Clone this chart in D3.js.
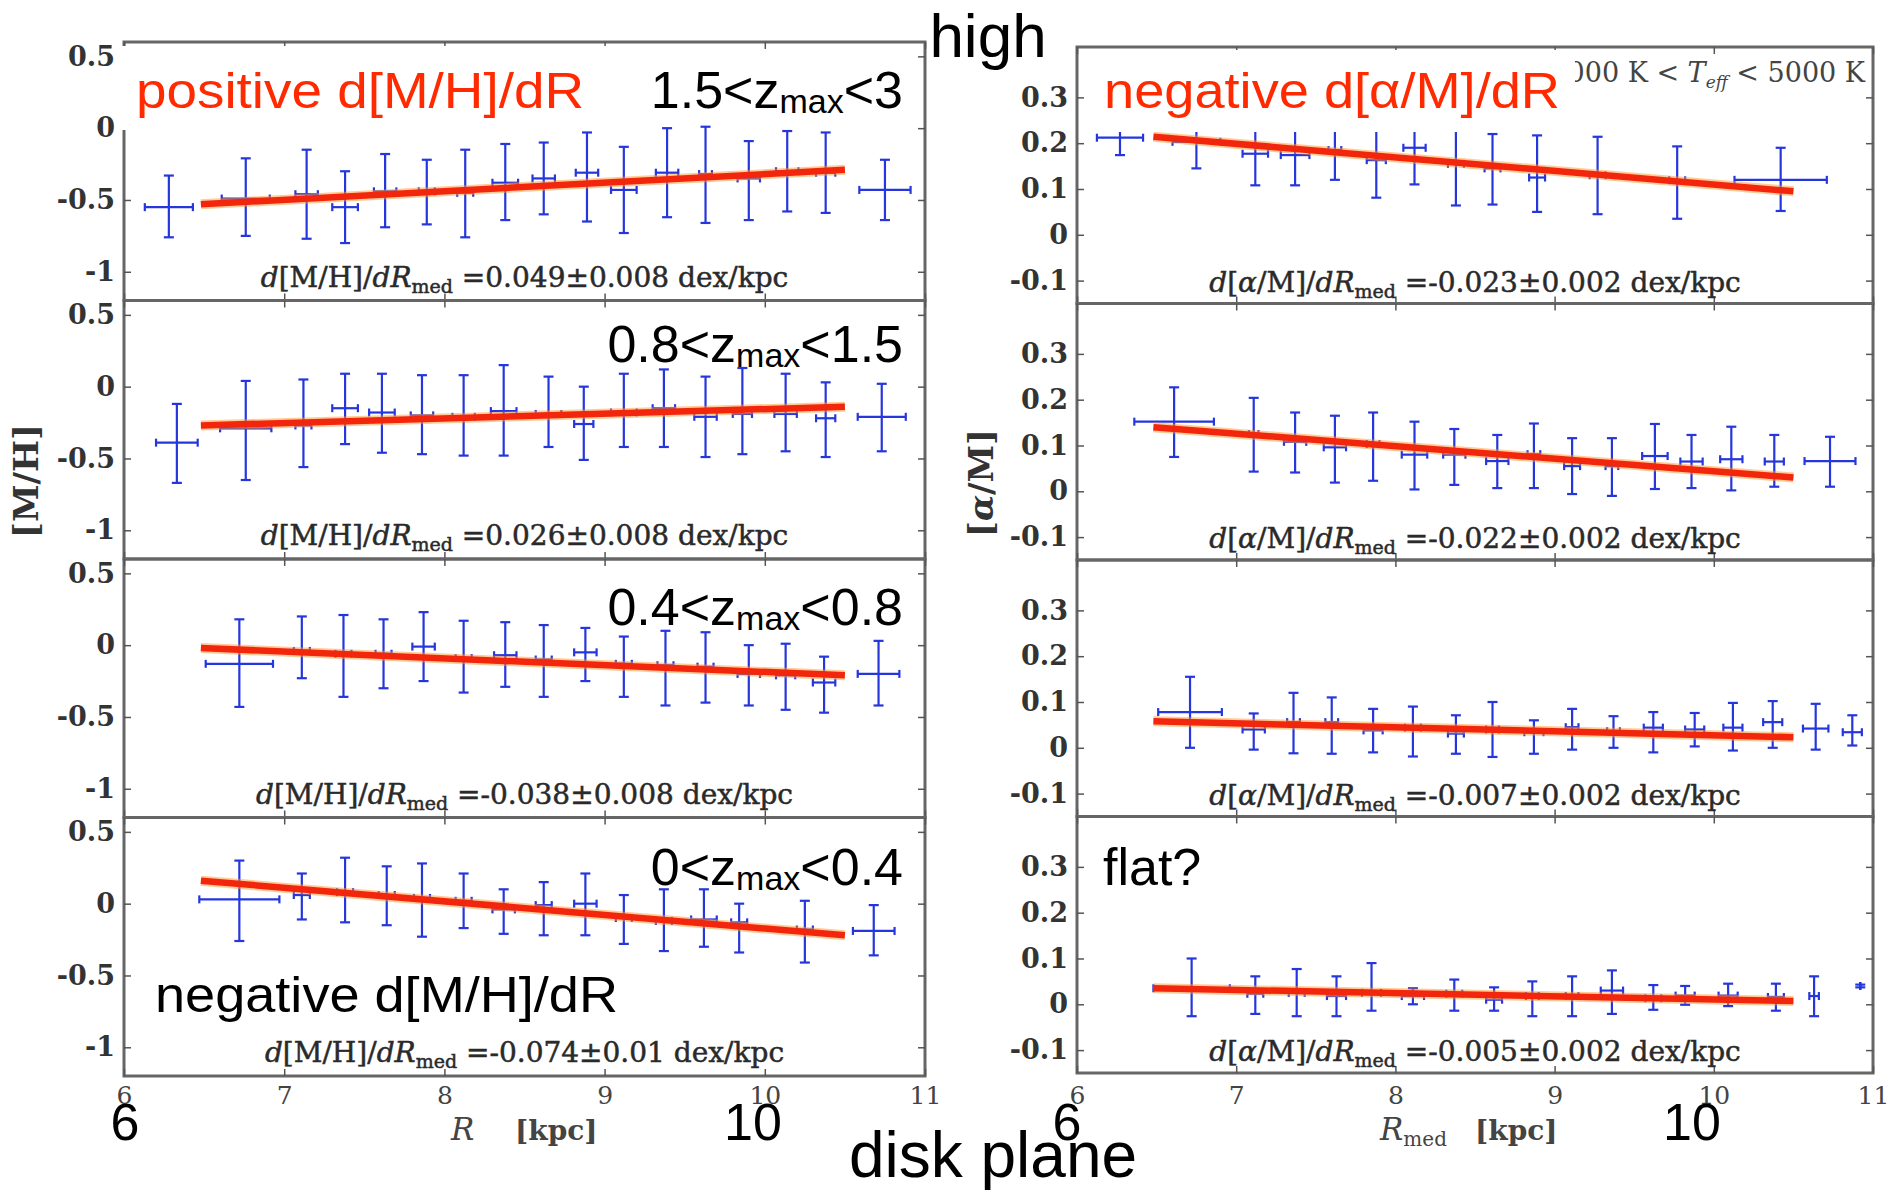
<!DOCTYPE html>
<html>
<head>
<meta charset="utf-8">
<script src="https://cdn.jsdelivr.net/npm/d3@7"></script>
<style>
  body { margin: 0; background: #fff; }
  svg { display: block; }
  .serif { font-family: "DejaVu Serif", serif; }
  .sans { font-family: "Liberation Sans", Arial, Helvetica, sans-serif; }
</style>
</head>
<body>
<script>
// ---- data ----
// left column: [M/H] vs R, one row per zmax bin (top to bottom)
var mhR = [
  [6.28, 6.76, 7.14, 7.38, 7.63, 7.89, 8.13, 8.38, 8.62, 8.89, 9.12, 9.39, 9.63, 9.90, 10.14, 10.38, 10.75],
  [6.33, 6.76, 7.12, 7.38, 7.61, 7.86, 8.12, 8.37, 8.65, 8.87, 9.12, 9.37, 9.63, 9.86, 10.13, 10.38, 10.73],
  [6.72, 7.11, 7.37, 7.62, 7.87, 8.12, 8.38, 8.62, 8.88, 9.12, 9.38, 9.63, 9.90, 10.13, 10.37, 10.71],
  [6.72, 7.11, 7.38, 7.64, 7.86, 8.12, 8.37, 8.62, 8.88, 9.12, 9.37, 9.62, 9.84, 10.25, 10.68]
];
var mhVal = [
  [-0.55, -0.49, -0.46, -0.55, -0.44, -0.44, -0.45, -0.38, -0.35, -0.31, -0.43, -0.31, -0.32, -0.35, -0.30, -0.31, -0.43],
  [-0.39, -0.29, -0.27, -0.15, -0.18, -0.20, -0.21, -0.17, -0.19, -0.26, -0.18, -0.15, -0.21, -0.19, -0.19, -0.22, -0.21],
  [-0.13, -0.04, -0.06, -0.06, -0.01, -0.09, -0.07, -0.10, -0.05, -0.13, -0.14, -0.15, -0.20, -0.21, -0.26, -0.20],
  [0.03, 0.06, 0.08, 0.06, 0.04, 0.02, -0.04, -0.01, 0.00, -0.10, -0.12, -0.11, -0.13, -0.18, -0.19]
];
var mhHi = [
  [-0.33, -0.21, -0.15, -0.30, -0.18, -0.22, -0.15, -0.11, -0.10, -0.03, -0.13, 0.00, 0.01, -0.09, -0.02, -0.03, -0.22],
  [-0.12, 0.04, 0.05, 0.09, 0.09, 0.08, 0.08, 0.15, 0.07, 0.00, 0.09, 0.12, 0.07, 0.13, 0.09, 0.03, 0.02],
  [0.18, 0.20, 0.21, 0.18, 0.23, 0.17, 0.16, 0.14, 0.12, 0.06, 0.10, 0.09, 0.00, 0.01, -0.08, 0.03],
  [0.30, 0.21, 0.32, 0.26, 0.28, 0.21, 0.10, 0.15, 0.21, 0.06, 0.10, 0.10, 0.00, 0.02, -0.01]
];
var mhLo = [
  [-0.76, -0.75, -0.77, -0.80, -0.69, -0.67, -0.76, -0.64, -0.60, -0.65, -0.73, -0.62, -0.66, -0.64, -0.58, -0.59, -0.64],
  [-0.67, -0.65, -0.56, -0.40, -0.46, -0.47, -0.48, -0.48, -0.42, -0.51, -0.42, -0.42, -0.49, -0.47, -0.45, -0.49, -0.45],
  [-0.43, -0.23, -0.36, -0.30, -0.25, -0.33, -0.29, -0.36, -0.25, -0.36, -0.42, -0.40, -0.42, -0.45, -0.47, -0.42],
  [-0.26, -0.11, -0.13, -0.15, -0.23, -0.17, -0.21, -0.22, -0.22, -0.28, -0.33, -0.30, -0.34, -0.41, -0.36]
];
var mhXerr = [
  [0.15, 0.15, 0.07, 0.08, 0.07, 0.05, 0.05, 0.08, 0.07, 0.07, 0.08, 0.07, 0.04, 0.07, 0.07, 0.06, 0.16],
  [0.13, 0.16, 0.05, 0.08, 0.08, 0.07, 0.07, 0.08, 0.08, 0.06, 0.08, 0.07, 0.07, 0.06, 0.07, 0.06, 0.15],
  [0.21, 0.05, 0.05, 0.05, 0.07, 0.05, 0.07, 0.05, 0.07, 0.05, 0.05, 0.05, 0.07, 0.06, 0.07, 0.13],
  [0.25, 0.05, 0.05, 0.05, 0.05, 0.05, 0.07, 0.05, 0.07, 0.05, 0.05, 0.08, 0.05, 0.05, 0.13]
];
var mhFit = [[-0.53, -0.29], [-0.27, -0.14], [-0.02, -0.21], [0.16, -0.22]];
var mhStats = ["=0.049\u00b10.008", "=0.026\u00b10.008", "=-0.038\u00b10.008", "=-0.074\u00b10.01"];

// right column: [alpha/M] vs R_med
var amR = [
  [6.27, 6.75, 7.12, 7.37, 7.62, 7.88, 8.12, 8.38, 8.61, 8.89, 9.27, 9.77, 10.42],
  [6.61, 7.11, 7.37, 7.62, 7.86, 8.12, 8.37, 8.64, 8.87, 9.11, 9.36, 9.63, 9.86, 10.11, 10.38, 10.73],
  [6.71, 7.11, 7.36, 7.60, 7.86, 8.11, 8.38, 8.61, 8.87, 9.11, 9.37, 9.62, 9.88, 10.12, 10.37, 10.64, 10.87],
  [6.72, 7.12, 7.38, 7.63, 7.85, 8.11, 8.37, 8.62, 8.86, 9.11, 9.36, 9.62, 9.82, 10.09, 10.39, 10.63, 10.92]
];
var amVal = [
  [0.212, 0.203, 0.177, 0.174, 0.185, 0.163, 0.19, 0.155, 0.145, 0.125, 0.13, 0.119, 0.12],
  [0.152, 0.125, 0.108, 0.096, 0.103, 0.08, 0.08, 0.066, 0.081, 0.055, 0.055, 0.077, 0.065, 0.07, 0.065, 0.066],
  [0.078, 0.04, 0.056, 0.056, 0.038, 0.044, 0.031, 0.04, 0.034, 0.045, 0.036, 0.044, 0.04, 0.044, 0.056, 0.042, 0.034],
  [0.035, 0.023, 0.025, 0.018, 0.025, 0.018, 0.023, 0.01, 0.018, 0.018, 0.03, 0.013, 0.019, 0.019, 0.016, 0.018, 0.04]
];
var amHi = [
  [0.25, 0.26, 0.245, 0.24, 0.25, 0.245, 0.27, 0.245, 0.22, 0.217, 0.214, 0.193, 0.19],
  [0.227, 0.204, 0.172, 0.165, 0.172, 0.152, 0.136, 0.123, 0.148, 0.116, 0.116, 0.147, 0.123, 0.141, 0.123, 0.119],
  [0.155, 0.075, 0.12, 0.11, 0.085, 0.09, 0.071, 0.1, 0.06, 0.085, 0.069, 0.078, 0.076, 0.098, 0.102, 0.096, 0.071],
  [0.1, 0.061, 0.077, 0.061, 0.09, 0.035, 0.054, 0.037, 0.05, 0.061, 0.074, 0.042, 0.04, 0.045, 0.045, 0.061, 0.043]
];
var amLo = [
  [0.174, 0.145, 0.108, 0.108, 0.12, 0.081, 0.11, 0.064, 0.066, 0.05, 0.045, 0.035, 0.052],
  [0.075, 0.043, 0.041, 0.019, 0.023, 0.004, 0.014, 0.007, 0.007, -0.006, -0.01, 0.005, 0.007, 0.002, 0.01, 0.01],
  [0.0, -0.004, -0.012, -0.013, -0.01, -0.019, -0.013, -0.02, -0.013, -0.004, 0.0, -0.01, 0.003, -0.006, 0.0, -0.004, 0.005],
  [-0.026, -0.021, -0.026, -0.026, -0.014, 0.0, -0.014, -0.014, -0.026, -0.026, -0.021, -0.012, -0.001, -0.004, -0.014, -0.026, 0.037]
];
var amXerr = [
  [0.145, 0.15, 0.08, 0.09, 0.04, 0.06, 0.07, 0.05, 0.05, 0.05, 0.05, 0.05, 0.29],
  [0.25, 0.03, 0.07, 0.07, 0.04, 0.08, 0.07, 0.07, 0.04, 0.05, 0.04, 0.08, 0.07, 0.07, 0.06, 0.16],
  [0.2, 0.07, 0.04, 0.04, 0.06, 0.05, 0.05, 0.04, 0.06, 0.04, 0.04, 0.06, 0.06, 0.06, 0.06, 0.08, 0.06],
  [0.24, 0.05, 0.05, 0.06, 0.06, 0.07, 0.05, 0.05, 0.04, 0.04, 0.07, 0.05, 0.06, 0.06, 0.05, 0.03, 0.0]
];
var amFit = [[0.214, 0.095], [0.14, 0.03], [0.058, 0.023], [0.035, 0.007]];
var amStats = ["=-0.023\u00b10.002", "=-0.022\u00b10.002", "=-0.007\u00b10.002", "=-0.005\u00b10.002"];

var fitRange = [6.48, 10.5];
var rTicks = [6, 7, 8, 9, 10, 11];
var mhTicks = [0.5, 0, -0.5, -1];
var amTicks = [0.3, 0.2, 0.1, 0, -0.1];
var zBins = [["1.5<z", "max", "<3"], ["0.8<z", "max", "<1.5"], ["0.4<z", "max", "<0.8"], ["0<z", "max", "<0.4"]];

// ---- layout ----
var blue = "#2536dc";

var svg = d3.select("body").append("svg")
    .attr("width", 1893)
    .attr("height", 1192);

var xL = d3.scaleLinear().domain([6, 11]).range([124, 925]),
    xR = d3.scaleLinear().domain([6, 11]).range([1077, 1873]);

var leftCol = {x: xL, top: 42, h: 258.5, dom: [-1.2, 0.6], ticks: mhTicks, alpha: false, statBase: 14},
    rightCol = {x: xR, top: 47, h: 256.5, dom: [-0.15, 0.41], ticks: amTicks, alpha: true, statBase: 12};

for (var i = 0; i < 4; i++) {
  drawPanel(leftCol, i, mhR[i], mhVal[i], mhLo[i], mhHi[i], mhXerr[i], mhFit[i], mhStats[i]);
  drawPanel(rightCol, i, amR[i], amVal[i], amLo[i], amHi[i], amXerr[i], amFit[i], amStats[i]);
}

function drawPanel(col, i, r, val, lo, hi, xe, fit, stat) {
  var top = col.top + i * col.h,
      bot = top + col.h,
      x = col.x,
      x0 = x.range()[0],
      x1 = x.range()[1],
      y = d3.scaleLinear().domain(col.dom).range([bot, top]);

  var g = svg.append("g");

  var pts = r.map(function(d, k) {
    return {r: d, v: val[k], lo: lo[k], hi: hi[k], xe: xe[k]};
  });

  // error crosses
  var bars = g.selectAll(".bar")
      .data(pts)
    .enter().append("g")
      .attr("class", "bar")
      .attr("stroke", blue)
      .attr("stroke-width", 2.2);

  bars.append("line")
      .attr("x1", function(d) { return x(d.r); })
      .attr("x2", function(d) { return x(d.r); })
      .attr("y1", function(d) { return y(d.hi); })
      .attr("y2", function(d) { return y(d.lo); });
  ["hi", "lo"].forEach(function(k) {
    bars.append("line")
        .attr("x1", function(d) { return x(d.r) - 5; })
        .attr("x2", function(d) { return x(d.r) + 5; })
        .attr("y1", function(d) { return y(d[k]); })
        .attr("y2", function(d) { return y(d[k]); });
  });
  bars.append("line")
      .attr("x1", function(d) { return x(d.r - d.xe); })
      .attr("x2", function(d) { return x(d.r + d.xe); })
      .attr("y1", function(d) { return y(d.v); })
      .attr("y2", function(d) { return y(d.v); });
  [-1, 1].forEach(function(s) {
    bars.append("line")
        .attr("x1", function(d) { return x(d.r + s * d.xe); })
        .attr("x2", function(d) { return x(d.r + s * d.xe); })
        .attr("y1", function(d) { return y(d.v) - 4; })
        .attr("y2", function(d) { return y(d.v) + 4; });
  });

  // gradient fit
  var fitPts = fitRange.map(function(rr, k) { return [rr, fit[k]]; });
  var line = d3.line()
      .x(function(d) { return x(d[0]); })
      .y(function(d) { return y(d[1]); });
  g.append("path")
      .datum(fitPts)
      .attr("d", line)
      .attr("fill", "none")
      .attr("stroke", "#ff9a30")
      .attr("stroke-opacity", 0.5)
      .attr("stroke-width", 10);
  g.append("path")
      .datum(fitPts)
      .attr("d", line)
      .attr("fill", "none")
      .attr("stroke", "#f2260c")
      .attr("stroke-width", 6.5);

  // frame
  g.append("rect")
      .attr("x", x0)
      .attr("y", top)
      .attr("width", x1 - x0)
      .attr("height", col.h)
      .attr("fill", "none")
      .attr("stroke", "#666")
      .attr("stroke-width", 3);

  // axes, ticks pointing inward
  var yl = g.append("g")
      .attr("transform", "translate(" + x0 + ",0)")
      .call(d3.axisLeft(y).tickValues(col.ticks).tickSizeInner(-7).tickSizeOuter(0)
        .tickPadding(9).tickFormat(function(d) { return String(d); }));
  yl.attr("font-family", "DejaVu Serif, serif")
      .attr("font-size", 27)
      .attr("font-weight", "bold");
  yl.selectAll("text").attr("fill", "#333");

  var yr = g.append("g")
      .attr("transform", "translate(" + x1 + ",0)")
      .call(d3.axisRight(y).tickValues(col.ticks).tickSizeInner(-7).tickSizeOuter(0).tickFormat(""));

  var xt = g.append("g")
      .attr("transform", "translate(0," + top + ")")
      .call(d3.axisTop(x).tickValues(rTicks).tickSizeInner(-7).tickSizeOuter(0).tickFormat(""));

  var xb = g.append("g")
      .attr("transform", "translate(0," + bot + ")")
      .call(d3.axisBottom(x).tickValues(rTicks).tickSizeInner(-7).tickSizeOuter(0)
        .tickFormat(i == 3 ? function(d) { return String(d); } : ""));
  xb.attr("font-family", "DejaVu Serif, serif")
      .attr("font-size", 25);
  xb.selectAll("text")
      .attr("fill", "#444")
      .attr("dy", null)
      .attr("y", 1104 - bot);

  [yl, yr, xt, xb].forEach(function(a) {
    a.select(".domain").remove();
    a.selectAll(".tick line").attr("stroke", "#555").attr("stroke-width", 1.5);
  });

  // gradient value
  var cx = (x0 + x1) / 2;
  var t = svg.append("text")
      .attr("class", "serif")
      .attr("x", cx)
      .attr("y", bot - col.statBase)
      .attr("text-anchor", "middle")
      .attr("font-size", 28)
      .attr("fill", "#2a2a2a")
      .attr("stroke", "#2a2a2a")
      .attr("stroke-width", 0.5);
  t.append("tspan").attr("font-style", "italic").text("d");
  if (col.alpha) {
    t.append("tspan").text("[");
    t.append("tspan").attr("font-style", "italic").text("\u03b1");
    t.append("tspan").text("/M]/");
  } else {
    t.append("tspan").text("[M/H]/");
  }
  t.append("tspan").attr("font-style", "italic").text("dR");
  t.append("tspan").attr("font-size", 19).attr("dy", 6).text("med");
  t.append("tspan").attr("dy", -6).text(" " + stat + " dex/kpc");
}

// panel title partly hidden behind the annotation box
var tt = svg.append("text")
    .attr("class", "serif")
    .attr("x", 1865)
    .attr("y", 82)
    .attr("text-anchor", "end")
    .attr("font-size", 27)
    .attr("fill", "#444");
tt.append("tspan").text("4000 K < ");
tt.append("tspan").attr("font-style", "italic").text("T");
tt.append("tspan").attr("font-style", "italic").attr("font-size", 17).attr("dy", 6).text("eff");
tt.append("tspan").attr("dy", -6).text(" < 5000 K");

// white boxes behind the red notes
svg.append("rect").attr("x", 117).attr("y", 46).attr("width", 489).attr("height", 84).attr("fill", "#fff");
svg.append("rect").attr("x", 1085).attr("y", 50).attr("width", 490).attr("height", 82).attr("fill", "#fff");

// axis titles
svg.append("text")
    .attr("class", "serif")
    .attr("transform", "translate(38,481) rotate(-90)")
    .attr("text-anchor", "middle")
    .attr("font-size", 34)
    .attr("font-weight", "bold")
    .attr("fill", "#333")
    .text("[M/H]");
var ya = svg.append("text")
    .attr("class", "serif")
    .attr("transform", "translate(993,483) rotate(-90)")
    .attr("text-anchor", "middle")
    .attr("font-size", 34)
    .attr("font-weight", "bold")
    .attr("fill", "#333");
ya.append("tspan").text("[");
ya.append("tspan").attr("font-style", "italic").text("\u03b1");
ya.append("tspan").text("/M]");

function rLabel(xR0, xK, med) {
  var t = svg.append("text")
      .attr("class", "serif")
      .attr("x", xR0)
      .attr("y", 1140)
      .attr("font-size", 31)
      .attr("fill", "#444");
  t.append("tspan").attr("font-style", "italic").text("R");
  if (med) t.append("tspan").attr("font-size", 20).attr("dy", 6).text("med");
  svg.append("text")
      .attr("class", "serif")
      .attr("x", xK)
      .attr("y", 1140)
      .attr("font-size", 28)
      .attr("font-weight", "bold")
      .attr("fill", "#444")
      .text("[kpc]");
}
rLabel(451, 515, false);
rLabel(1380, 1475, true);

// annotations
function note(txt, x, yb, color, len) {
  var t = svg.append("text")
      .attr("class", "sans")
      .attr("x", x)
      .attr("y", yb)
      .attr("font-size", 50)
      .attr("fill", color)
      .text(txt);
  if (len) t.attr("textLength", len).attr("lengthAdjust", "spacingAndGlyphs");
  return t;
}
note("positive d[M/H]/dR", 136, 108, "#ff2a00", 448);
note("negative d[\u03b1/M]/dR", 1104, 108, "#ff2a00", 456);
note("negative d[M/H]/dR", 155, 1012, "#000", 463);
note("flat?", 1103, 885, "#000", null).attr("font-size", 52);

var zBase = [108, 362, 625, 885];
zBins.forEach(function(p, k) {
  var t = svg.append("text")
      .attr("class", "sans")
      .attr("x", 903)
      .attr("y", zBase[k])
      .attr("text-anchor", "end")
      .attr("font-size", 52)
      .attr("fill", "#000");
  t.append("tspan").text(p[0]);
  t.append("tspan").attr("font-size", 34).attr("dy", 5).text(p[1]);
  t.append("tspan").attr("dy", -5).text(p[2]);
});

function big(txt, x, yb, size) {
  svg.append("text")
      .attr("class", "sans")
      .attr("x", x)
      .attr("y", yb)
      .attr("text-anchor", "middle")
      .attr("font-size", size)
      .attr("fill", "#000")
      .text(txt);
}
big("high", 988, 57, 62);
big("disk plane", 993, 1177, 64);
big("6", 125, 1140, 52);
big("10", 753, 1140, 52);
big("6", 1067, 1140, 52);
big("10", 1692, 1140, 52);
</script>
</body>
</html>
